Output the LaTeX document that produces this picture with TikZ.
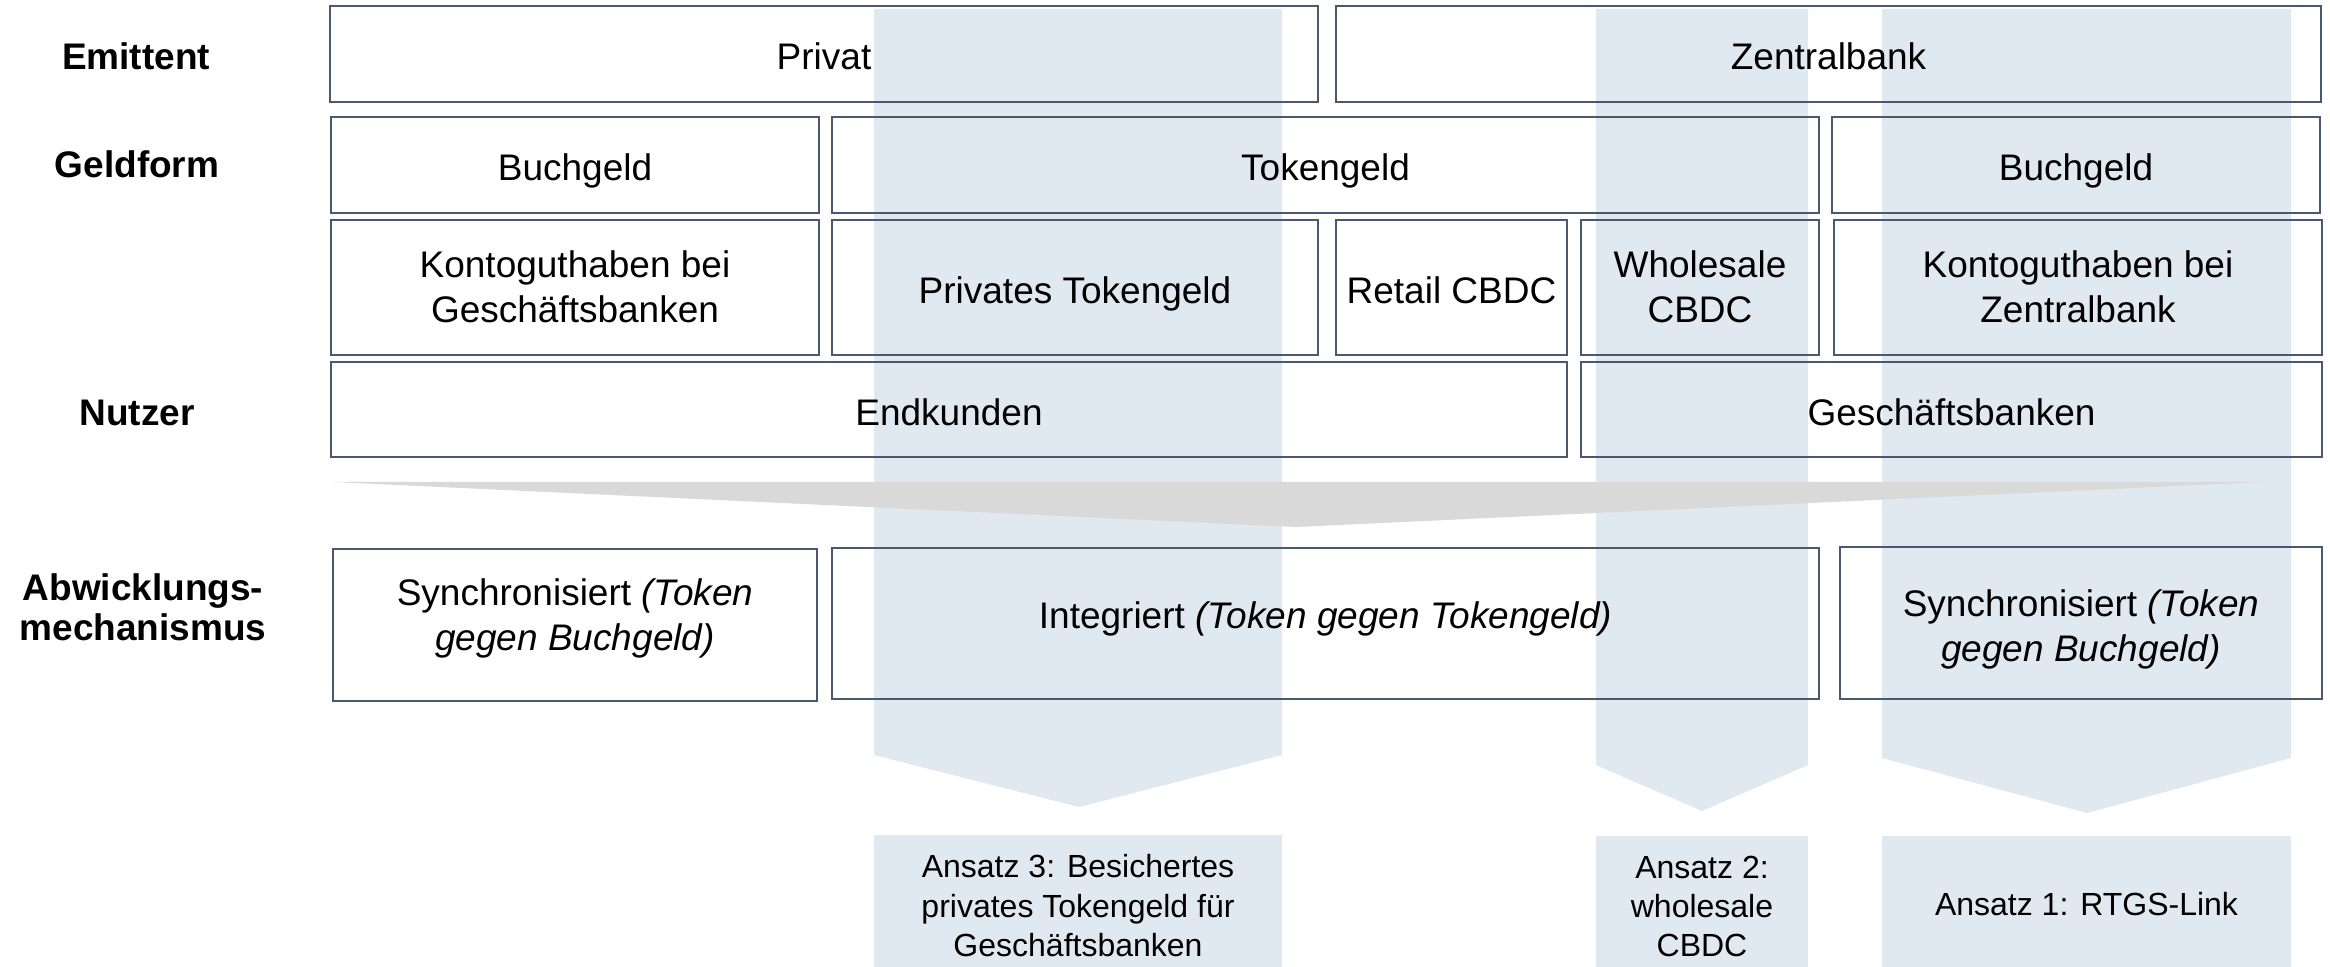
\documentclass[tikz,border=0pt]{standalone}
\usepackage{fontspec}
\setmainfont{Liberation Sans}
\definecolor{bordercol}{HTML}{4A5870}
\definecolor{colblue}{HTML}{E0E8F0}
\definecolor{funnelgray}{HTML}{D9D9D9}
\begin{document}
\begin{tikzpicture}[x=0.5pt,y=-0.5pt,
  box/.style={draw=bordercol, line width=1.35pt, align=center, inner sep=0pt, font=\fontsize{18.5}{22.5}\selectfont},
  oneline/.style={text height=15.8pt, text depth=0pt},
  twoline/.style={text height=35pt, text depth=0pt},
  rowlabel/.style={align=center, inner sep=0pt, font=\fontsize{18.5}{20}\selectfont\bfseries},
  ansatz/.style={fill=colblue, align=center, inner sep=0pt, font=\fontsize{16}{19.7}\selectfont},
  colband/.style={fill=colblue, draw=none}]
\useasboundingbox (0,0) rectangle (2330,967);
% light blue columns
\fill[colband] (874,9) -- (1282,9) -- (1282,755) -- (1079,807) -- (874,755) -- cycle;
\fill[colband] (1596,9) -- (1808,9) -- (1808,765) -- (1702,811) -- (1596,765) -- cycle;
\fill[colband] (1882,9) -- (2291,9) -- (2291,758) -- (2087,813) -- (1882,758) -- cycle;
% funnel
\fill[funnelgray] (333,482) -- (2261,482) -- (1296,527) -- cycle;
% row labels
\node[rowlabel] (lemit) at (136,56) {Emittent};
\node[rowlabel] (lgeld) at (137,164) {Geldform};
\node[rowlabel] (lnutz) at (137,413) {Nutzer};
\node[rowlabel] (labw) at (143,607) {Abwicklungs-\\mechanismus};
% row 1
\node[box, oneline, minimum width=494pt, minimum height=48pt] (priv) at (824,54) {Privat};
\node[box, oneline, minimum width=492.5pt, minimum height=48pt] (zb) at (1828.5,54) {Zentralbank};
% row 2
\node[box, oneline, minimum width=244pt, minimum height=48pt] (buch1) at (575,165) {Buchgeld};
\node[box, oneline, minimum width=493.5pt, minimum height=48pt] (token) at (1325.5,165) {Tokengeld};
\node[box, oneline, minimum width=244pt, minimum height=48pt] (buch2) at (2076,165) {Buchgeld};
% row 3
\node[box, twoline, minimum width=244pt, minimum height=67.5pt] (konto1) at (575,287.5) {Kontoguthaben bei\\Geschäftsbanken};
\node[box, oneline, minimum width=243pt, minimum height=67.5pt] (ptoken) at (1075,287.5) {Privates Tokengeld};
\node[box, oneline, minimum width=115.5pt, minimum height=67.5pt] (retail) at (1451.5,287.5) {Retail CBDC};
\node[box, twoline, minimum width=119pt, minimum height=67.5pt] (whole) at (1700,287.5) {Wholesale\\CBDC};
\node[box, twoline, minimum width=244pt, minimum height=67.5pt] (konto2) at (2078,287.5) {Kontoguthaben bei\\Zentralbank};
% row 4
\node[box, oneline, minimum width=618pt, minimum height=47.5pt] (endk) at (949,409.5) {Endkunden};
\node[box, oneline, minimum width=370.5pt, minimum height=47.5pt] (gesch) at (1951.5,409.5) {Geschäftsbanken};
% settlement row
\node[box, text height=25.5pt, text depth=0pt, minimum width=242pt, minimum height=76pt] (sync1) at (575,625) {Synchronisiert \textit{(Token}\\\textit{gegen Buchgeld)}};
\node[box, text height=5.2pt, text depth=0pt, minimum width=493.5pt, minimum height=75.5pt] (integ) at (1325.5,623.5) {Integriert \textit{(Token gegen Tokengeld)}};
\node[box, text height=38.1pt, text depth=0pt, minimum width=241pt, minimum height=76pt] (sync2) at (2081,623) {Synchronisiert \textit{(Token}\\\textit{gegen Buchgeld)}};
% approaches
\node[ansatz, text height=55.4pt, text depth=0pt, minimum width=204pt, minimum height=66pt] (a3) at (1078,901) {Ansatz 3: Besichertes\\privates Tokengeld für\\Geschäftsbanken};
\node[ansatz, text height=55.4pt, text depth=0pt, minimum width=106pt, minimum height=66pt] (a2) at (1702,901.5) {Ansatz 2:\\wholesale\\CBDC};
\node[ansatz, text height=14.4pt, text depth=0pt, minimum width=204.5pt, minimum height=66pt] (a1) at (2086.5,901.5) {Ansatz 1: RTGS-Link};
\end{tikzpicture}
\end{document}
